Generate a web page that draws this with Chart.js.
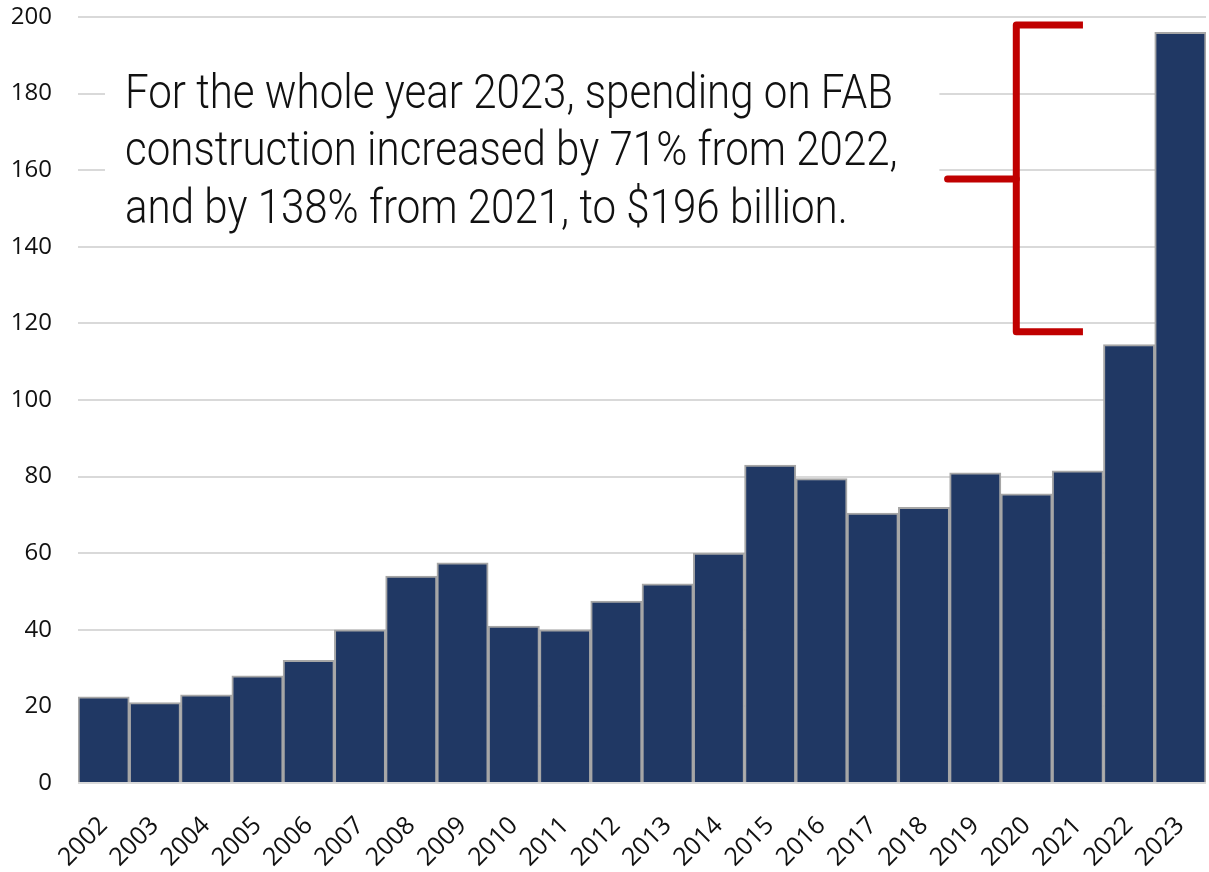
<!DOCTYPE html>
<html>
<head>
<meta charset="utf-8">
<script src="https://cdn.jsdelivr.net/npm/chart.js@4"></script>
<style>
  html, body { margin: 0; padding: 0; background: #fff; }
  #wrap { width: 1209px; height: 872px; }
</style>
</head>
<body>
<div id="wrap"><canvas id="fab-chart"></canvas></div>
<script>
/* ---- Data ---- */
const years = ['2002', '2003', '2004', '2005', '2006', '2007', '2008', '2009', '2010', '2011', '2012',
    '2013', '2014', '2015', '2016', '2017', '2018', '2019', '2020', '2021', '2022', '2023'];
const spending = [22.5, 21, 23, 28, 32, 40, 54, 57.5, 41, 40, 47.5,
    52, 60, 83, 79.5, 70.5, 72, 81, 75.5, 81.5, 114.5, 196];
const yTicks = [0, 20, 40, 60, 80, 100, 120, 140, 160, 180, 200];

const noteLines = [
    'For the whole year 2023, spending on FAB',
    'construction increased by 71% from 2022,',
    'and by 138% from 2021, to $196 billion.'
];

/* ---- Annotation: white note box + red bracket ---- */
const notePlugin = {
    id: 'note',
    afterDatasetsDraw(chart) {
        const { ctx, chartArea, scales: { x, y } } = chart;
        ctx.save();

        // white box hides the gridlines behind the text
        const boxL = chartArea.left + 27;
        const boxR = x.getPixelForValue(16.3);
        const boxT = y.getPixelForValue(198);
        const boxB = y.getPixelForValue(140.5);
        ctx.fillStyle = '#ffffff';
        ctx.fillRect(boxL, boxT, boxR - boxL, boxB - boxT);

        // light condensed text: squeeze Roboto Light to the width of the first line
        ctx.font = '300 48px Roboto, "DejaVu Sans", sans-serif';
        const sx = 768 / ctx.measureText(noteLines[0]).width;
        ctx.fillStyle = '#111111';
        ctx.textBaseline = 'alphabetic';
        ctx.textAlign = 'left';
        const top = y.getPixelForValue(180);
        noteLines.forEach((line, i) => {
            ctx.save();
            ctx.translate(chartArea.left + 47, top + 14 + i * 57.5);
            ctx.scale(sx, 1);
            ctx.fillText(line, 0, 0);
            ctx.restore();
        });

        // bracket
        const bx = x.getPixelForValue(17.8);
        const armR = x.getPixelForValue(19.1);
        const tickL = x.getPixelForValue(16.46);
        const yTop = y.getPixelForValue(197.9);
        const yBot = y.getPixelForValue(117.8);
        const yMid = y.getPixelForValue(157.7);
        ctx.strokeStyle = '#c00000';
        ctx.lineWidth = 7;
        ctx.lineJoin = 'round';
        ctx.lineCap = 'butt';
        ctx.beginPath();
        ctx.moveTo(armR, yTop);
        ctx.lineTo(bx, yTop);
        ctx.lineTo(bx, yBot);
        ctx.lineTo(armR, yBot);
        ctx.stroke();
        ctx.lineCap = 'round';
        ctx.beginPath();
        ctx.moveTo(tickL, yMid);
        ctx.lineTo(bx, yMid);
        ctx.stroke();

        ctx.restore();
    }
};

const yFont = { family: '"Open Sans", "Liberation Sans", sans-serif', size: 24 };
const xFont = { family: '"Open Sans", "Liberation Sans", sans-serif', size: 25 };

new Chart(document.getElementById('fab-chart'), {
    type: 'bar',
    data: {
        labels: years,
        datasets: [{
            data: spending,
            backgroundColor: '#203864',
            borderColor: '#a6a6a6',
            borderWidth: 2,
            categoryPercentage: 1,
            barPercentage: 1
        }]
    },
    options: {
        responsive: true,
        maintainAspectRatio: false,
        animation: false,
        layout: { padding: { top: 17, right: 3, left: 0, bottom: 0 } },
        plugins: {
            legend: { display: false },
            tooltip: { enabled: false }
        },
        scales: {
            x: {
                grid: { display: false },
                border: { display: false },
                afterFit(axis) {
                    axis.height = 89;
                    axis.paddingTop = 0;
                    axis.paddingBottom = 0;
                    axis.paddingRight = 0;
                },
                ticks: {
                    color: '#111',
                    font: xFont,
                    minRotation: 45,
                    maxRotation: 45,
                    padding: 20
                }
            },
            y: {
                min: 0,
                max: 200,
                afterBuildTicks(axis) {
                    axis.ticks = yTicks.map(v => ({ value: v }));
                },
                afterFit(axis) {
                    axis.width = 78;
                    axis.paddingTop = 0;
                    axis.paddingBottom = 0;
                },
                grid: { color: '#d9d9d9', lineWidth: 2, drawTicks: false },
                border: { display: false },
                ticks: {
                    color: '#111',
                    font: yFont,
                    padding: 26
                }
            }
        }
    },
    plugins: [notePlugin]
});
</script>
</body>
</html>
